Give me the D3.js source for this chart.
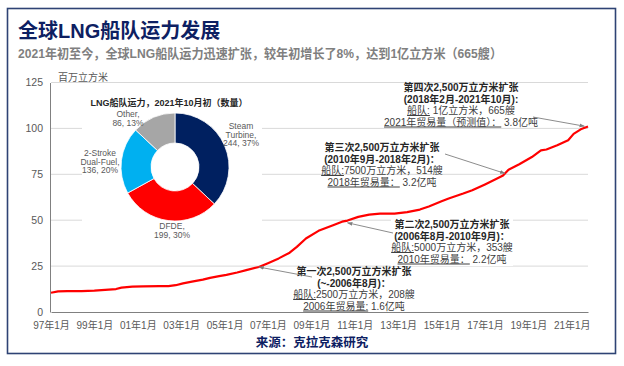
<!DOCTYPE html>
<html><head><meta charset="utf-8">
<script src="https://cdn.jsdelivr.net/npm/d3@7"></script>
<style>
html,body{margin:0;padding:0;background:#fff;}
svg{display:block;}
text{font-family:"Liberation Sans","Noto Sans CJK SC",sans-serif;}
</style></head>
<body>
<svg id="chart" width="624" height="366"></svg>
<script>
// ---- data ----
const months = ["1997-01","1997-05","1997-10","1998-06","1999-01","1999-07","2000-01","2000-04","2000-10","2001-04",
"2002-01","2002-06","2002-10","2003-02","2003-07","2004-01","2004-05","2004-10","2005-02","2005-08",
"2006-01","2006-08","2007-01","2007-07","2008-01","2008-05","2008-10","2009-05","2010-01","2010-06",
"2010-09","2011-03","2011-09","2012-03","2012-11","2013-06","2014-01","2014-06","2015-01","2015-05",
"2016-01","2016-06","2017-01","2017-08","2017-11","2018-02","2018-08","2019-03","2019-08","2019-11",
"2020-05","2020-11","2021-02","2021-06","2021-10"];
const capacity = [10.5,11.2,11.4,11.4,11.6,12.1,12.5,13.3,13.8,14.0,
14.1,14.1,14.6,15.6,16.5,17.6,18.6,19.5,20.2,21.5,
22.8,24.5,26.6,29.2,32.3,35.5,40.0,44.2,47.3,49.2,
49.8,51.8,53.0,53.6,53.6,54.4,55.8,57.5,60.3,61.8,
64.5,66.3,69.5,72.8,74.3,77.5,80.5,84.4,88.0,88.5,
90.8,93.5,97.0,99.5,101.0];
const yTicks = [0,25,50,75,100,125];
const xTickYears = [1997,1999,2001,2003,2005,2007,2009,2011,2013,2015,2017,2019,2021];
const xTickLabels = ["97年1月","99年1月","01年1月","03年1月","05年1月","07年1月","09年1月","11年1月","13年1月","15年1月","17年1月","19年1月","21年1月"];

const pieCategories = ["Steam Turbine","DFDE","2-Stroke Dual-Fuel","Other"];
const pieCounts = [244,199,136,86];
const pieShares = [37,30,20,13];
const pieColors = ["#002060","#FF0000","#00B0F0","#A6A6A6"];

const annoDates = ["2006-08","2010-09","2017-12","2021-08"];
const annoValues = [24.5,48.6,75.5,101.2];
const annoTitles = ["第一次2,500万立方米扩张","第二次2,500万立方米扩张","第三次2,500万立方米扩张","第四次2,500万立方米扩张"];
const annoPeriods = ["(~-2006年8月)：","(2006年8月-2010年9月)：","(2010年9月-2018年2月)：","(2018年2月-2021年10月):"];
const annoFleet = ["2500万立方米，208艘","5000万立方米，353艘","7500万立方米，514艘"," 1亿立方米，665艘"];
const annoTradeLabel = ["2006年贸易量:","2010年贸易量：","2018年贸易量：","2021年贸易量（预测值）："];
const annoTradeValue = [" 1.6亿吨"," 2.2亿吨"," 3.2亿吨"," 3.8亿吨"];

// ---- drawing ----
const svg = d3.select("#chart");
const parse = d3.timeParse("%Y-%m");
const data = months.map((m,i)=>({date:parse(m), v:capacity[i]}));

const x = d3.scaleTime().domain([parse("1997-01"), parse("2021-10")]).range([51, 588]);
const y = d3.scaleLinear().domain([0,125]).range([312, 82.5]);

// frame
svg.append("rect").attr("x",7.5).attr("y",8.5).attr("width",608).attr("height",345)
  .attr("fill","#fff").attr("stroke","#2E4374").attr("stroke-width",1.6);

// titles
svg.append("text").attr("x",18).attr("y",38).attr("font-size",20).attr("font-weight","bold")
  .attr("fill","#0D2062").text("全球LNG船队运力发展");
svg.append("text").attr("x",18).attr("y",58).attr("font-size",13).attr("font-weight","bold")
  .attr("textLength",484).attr("lengthAdjust","spacingAndGlyphs")
  .attr("fill","#7F7F7F").text("2021年初至今，全球LNG船队运力迅速扩张，较年初增长了8%，达到1亿立方米（665艘）");

// gridlines
svg.append("g").selectAll("line").data(yTicks.filter(d=>d>0)).join("line")
  .attr("x1",51).attr("x2",588).attr("y1",d=>y(d)).attr("y2",d=>y(d))
  .attr("stroke","#D9D9D9").attr("stroke-width",1);

// y axis
const yAxis = d3.axisLeft(y).tickValues(yTicks).tickSize(0).tickPadding(7);
const gy = svg.append("g").attr("transform","translate(50,0)").call(yAxis);
gy.select(".domain").attr("stroke","#808080");
gy.selectAll("text").attr("font-size",10.5).attr("fill","#595959")
  .attr("font-family","Liberation Sans, Noto Sans CJK SC, sans-serif");

// x axis
const xAxis = d3.axisBottom(x).tickValues(xTickYears.map(yr=>new Date(yr,0,1)))
  .tickFormat((d,i)=>xTickLabels[i]).tickSize(0).tickPadding(10);
const gx = svg.append("g").attr("transform","translate(0,312)").call(xAxis);
gx.select(".domain").attr("stroke","#808080");
gx.selectAll("text").attr("font-size",10).attr("fill","#595959")
  .attr("font-family","Liberation Sans, Noto Sans CJK SC, sans-serif");

svg.append("text").attr("x",58).attr("y",81).attr("font-size",10).attr("fill","#595959").text("百万立方米");

// line
svg.append("path").datum(data)
  .attr("d", d3.line().x(d=>x(d.date)).y(d=>y(d.v)))
  .attr("fill","none").attr("stroke","#FF0000").attr("stroke-width",2.2).attr("stroke-linejoin","round");

// ---- pie inset ----
svg.append("rect").attr("x",82).attr("y",92).attr("width",180).attr("height",158).attr("fill","#fff");
svg.append("text").attr("x",169).attr("y",105.5).attr("text-anchor","middle").attr("font-size",9)
  .attr("font-weight","bold").attr("fill","#262626").text("LNG船队运力，2021年10月初（数量）");
const cx = 175, cy = 167;
const pie = d3.pie().sort(null).value(d=>d)(pieShares);
const arc = d3.arc().innerRadius(24).outerRadius(54);
const pg = svg.append("g").attr("transform",`translate(${cx},${cy})`);
pg.selectAll("path").data(pie).join("path").attr("d",arc)
  .attr("fill",(d,i)=>pieColors[i]).attr("stroke","#fff").attr("stroke-width",0.8);

const pieLabelLines = [
  ["Steam","Turbine,",`${pieCounts[0]}, ${pieShares[0]}%`],
  ["DFDE,",`${pieCounts[1]}, ${pieShares[1]}%`],
  ["2-Stroke","Dual-Fuel,",`${pieCounts[2]}, ${pieShares[2]}%`],
  ["Other,",`${pieCounts[3]}, ${pieShares[3]}%`]
];
const pieLabelPos = [[241,129],[172,229],[100,156],[128,117]];
pieLabelLines.forEach((lines,i)=>{
  const t = svg.append("text").attr("x",pieLabelPos[i][0]).attr("y",pieLabelPos[i][1])
    .attr("text-anchor","middle").attr("font-size",8.5).attr("fill","#595959");
  lines.forEach((l,j)=>t.append("tspan").attr("x",pieLabelPos[i][0]).attr("dy",j?8.6:0).text(l));
});

// ---- annotations ----
const defs = svg.append("defs");
defs.append("marker").attr("id","ah").attr("viewBox","0 0 10 10").attr("refX",9).attr("refY",5)
  .attr("markerWidth",6).attr("markerHeight",6).attr("orient","auto")
  .append("path").attr("d","M0,1.5 L10,5 L0,8.5 Z").attr("fill","#7F7F7F");

const blockCenters = [[354,275],[452,228],[382,151],[461,91]];
const arrowTails = [[312,277],[393,233],[445,154],[533,117]];

// white background for second block
svg.append("rect").attr("x",391).attr("y",218).attr("width",122).attr("height",48).attr("fill","#fff");

annoTitles.forEach((title,i)=>{
  const [bx,by] = blockCenters[i];
  const g = svg.append("g").attr("font-size",10);
  g.append("text").attr("x",bx).attr("y",by).attr("text-anchor","middle").attr("font-weight","bold")
    .attr("fill","#262626").text(title);
  g.append("text").attr("x",bx).attr("y",by+11.5).attr("text-anchor","middle").attr("font-weight","bold")
    .attr("fill","#262626").text(annoPeriods[i]);
  const t3 = g.append("text").attr("x",bx).attr("y",by+23).attr("text-anchor","middle").attr("fill","#404040");
  t3.append("tspan").attr("text-decoration","underline").text("船队:");
  t3.append("tspan").text(annoFleet[i]);
  const t4 = g.append("text").attr("x",bx).attr("y",by+34.5).attr("text-anchor","middle").attr("fill","#404040");
  t4.append("tspan").attr("text-decoration","underline").text(annoTradeLabel[i]);
  t4.append("tspan").text(annoTradeValue[i]);

  svg.append("line").attr("x1",arrowTails[i][0]).attr("y1",arrowTails[i][1])
    .attr("x2",x(parse(annoDates[i]))).attr("y2",y(annoValues[i]))
    .attr("stroke","#7F7F7F").attr("stroke-width",0.9).attr("marker-end","url(#ah)");
});

// source
svg.append("text").attr("x",312).attr("y",347).attr("text-anchor","middle").attr("font-size",12.5)
  .attr("font-weight","bold").attr("fill","#0D2062").text("来源：克拉克森研究");
</script>
</body></html>
